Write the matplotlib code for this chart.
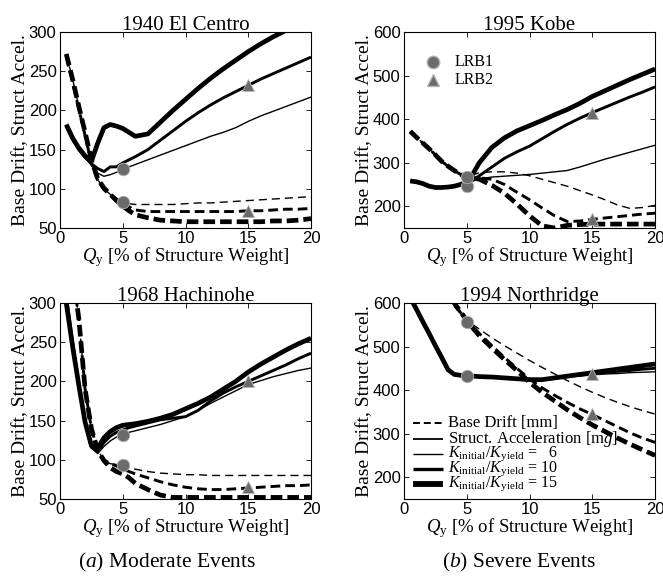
import numpy as np
import matplotlib
matplotlib.use("Agg")
import matplotlib.pyplot as plt
from matplotlib.lines import Line2D

plt.rcParams['font.family'] = ['Liberation Serif', 'DejaVu Serif']
plt.rcParams['mathtext.fontset'] = 'custom'
plt.rcParams['mathtext.rm'] = 'Liberation Serif'
plt.rcParams['mathtext.it'] = 'Liberation Serif:italic'
plt.rcParams['lines.scale_dashes'] = False

# yield strength grid, % of structure weight
q = [0.5, 1, 1.5, 2, 2.5, 3, 3.5, 4, 4.5, 5, 5.5, 6, 7, 8, 9, 10,
     11, 12, 13, 14, 15, 16, 17, 18, 19, 20]

# 1940 El Centro
elc_acc6 = [180, 165, 152, 140, 130, 120, 116, 118, 121, 125, 128, 131, 137, 143,
            149, 155, 161, 167, 172, 178, 186, 193, 199, 205, 211, 217]
elc_acc10 = [180, 163, 150, 140, 132, 126, 122, 128, 128, 133, 137, 141, 150, 162,
             174, 186, 197, 207, 216, 224, 232, 240, 247, 254, 261, 268]
elc_acc15 = [182, 165, 152, 142, 135, 158, 178, 182, 180, 177, 172, 167, 170, 185,
             200, 214, 228, 241, 253, 264, 275, 285, 294, 302, 311, 320]
elc_drift6 = [272, 240, 205, 170, 135, 112, 100, 93, 88, 83, 81, 80, 80, 80,
              80, 81, 82, 82, 83, 84, 85, 86, 87, 88, 89, 90]
elc_drift10 = [268, 236, 202, 168, 133, 111, 99, 92, 87, 83, 77, 73, 71, 71,
               71, 71, 71, 71, 71, 71, 72, 72, 73, 74, 74, 75]
elc_drift15 = [272, 240, 205, 172, 137, 113, 101, 93, 85, 78, 72, 67, 63, 60,
               59, 58, 58, 58, 58, 58, 58, 58, 59, 59, 60, 62]
elc_lrb1 = [125, 83]
elc_lrb2 = [232, 72]

# 1995 Kobe
kob_acc6 = [258, 256, 252, 246, 243, 243, 244, 246, 248, 250, 258, 263, 267, 269,
            271, 273, 276, 279, 282, 290, 299, 308, 316, 324, 332, 340]
kob_acc10 = [258, 256, 252, 246, 243, 243, 244, 246, 249, 252, 260, 270, 290, 310,
             325, 338, 355, 372, 388, 402, 415, 427, 439, 451, 462, 474]
kob_acc15 = [258, 256, 252, 246, 243, 243, 244, 246, 250, 255, 275, 300, 335, 357,
             373, 385, 397, 410, 422, 436, 452, 465, 478, 491, 503, 515]
kob_drift6 = [372, 358, 345, 332, 318, 303, 292, 282, 273, 266, 272, 277, 279, 279,
              276, 270, 262, 254, 246, 236, 226, 215, 203, 195, 197, 202]
kob_drift10 = [372, 358, 345, 332, 318, 303, 292, 282, 273, 266, 266, 265, 262, 250,
               232, 215, 196, 178, 165, 166, 170, 173, 176, 179, 182, 184]
kob_drift15 = [372, 358, 345, 332, 318, 303, 292, 282, 273, 266, 265, 262, 248, 230,
               205, 178, 155, 150, 156, 158, 159, 159, 159, 159, 159, 159]
kob_lrb1 = [246, 266]
kob_lrb2 = [415, 170]

# 1968 Hachinohe
hac_acc6 = [310, 250, 198, 148, 115, 108, 117, 124, 129, 132, 135, 137, 141, 145,
            150, 155, 163, 172, 180, 188, 196, 201, 206, 210, 214, 217]
hac_acc10 = [310, 250, 198, 148, 116, 110, 122, 130, 135, 138, 141, 143, 147, 151,
             153, 155, 163, 175, 185, 193, 200, 207, 214, 221, 229, 236]
hac_acc15 = [300, 245, 195, 148, 118, 115, 128, 136, 141, 144, 145, 146, 149, 153,
             158, 165, 172, 180, 190, 200, 212, 222, 231, 240, 248, 255]
hac_drift6 = [420, 340, 280, 190, 140, 112, 100, 95, 94, 93, 90, 88, 85, 83,
              82, 81, 81, 80, 80, 80, 80, 80, 80, 80, 80, 80]
hac_drift10 = [420, 340, 280, 190, 140, 112, 100, 95, 92, 88, 85, 82, 77, 72,
               68, 65, 63, 62, 62, 63, 64, 65, 66, 67, 67, 68]
hac_drift15 = [420, 340, 280, 190, 140, 112, 99, 90, 85, 82, 77, 70, 62, 55,
               52, 52, 52, 52, 52, 52, 52, 52, 52, 52, 52, 52]
hac_lrb1 = [132, 93]
hac_lrb2 = [200, 65]

# 1994 Northridge
nor_acc6 = [612, 585, 557, 530, 502, 475, 447, 436, 434, 433, 432, 431, 430, 428,
            426, 424, 424, 427, 430, 432, 435, 437, 438, 440, 441, 442]
nor_acc10 = [612, 585, 557, 530, 502, 475, 447, 436, 434, 433, 432, 431, 430, 428,
             426, 424, 424, 427, 431, 435, 438, 440, 443, 445, 448, 450]
nor_acc15 = [612, 585, 557, 530, 502, 475, 447, 436, 434, 433, 432, 431, 430, 428,
             426, 424, 424, 428, 432, 436, 440, 444, 448, 452, 456, 460]
nor_drift6 = [700, 690, 680, 670, 660, 640, 615, 592, 575, 560, 550, 540, 520, 502,
              485, 468, 452, 437, 422, 408, 395, 383, 372, 362, 353, 345]
nor_drift10 = [720, 710, 700, 690, 680, 660, 630, 600, 578, 560, 545, 530, 502, 475,
               450, 425, 405, 388, 372, 357, 344, 330, 316, 302, 290, 280]
nor_drift15 = [720, 710, 700, 690, 680, 660, 630, 600, 580, 560, 542, 525, 497, 470,
               445, 418, 395, 375, 355, 337, 320, 305, 290, 276, 263, 250]
nor_lrb1 = [433, 556]
nor_lrb2 = [437, 345]

widths = [1.0, 2.1, 3.4]
dash_patterns = [(5.8, 3.6), (7.0, 3.6), (8.4, 3.6)]
gray = '#6b6b6b'
edge = '#b4b4b4'


def draw_panel(ax, title, acc, drift, lrb1, lrb2, ylim, yticks):
    for y, lw in zip(acc, widths):
        ax.plot(q, y, color='k', lw=lw, solid_capstyle='butt')
    for y, lw, d in zip(drift, widths, dash_patterns):
        ax.plot(q, y, color='k', lw=lw, linestyle=(0, d), dash_capstyle='butt')
    ax.plot([5, 5], lrb1, 'o', color=gray, mec=edge, mew=0.6, ms=9, zorder=5)
    ax.plot([15, 15], lrb2, '^', color=gray, mec=edge, mew=0.6, ms=9, zorder=5)

    ax.set_xlim(0, 20)
    ax.set_ylim(*ylim)
    ax.set_xticks([0, 5, 10, 15, 20])
    ax.set_yticks(yticks)
    ax.tick_params(direction='in', top=True, right=True, length=3.5, width=0.6,
                   labelsize=12, pad=2.5)
    for lab in ax.get_xticklabels() + ax.get_yticklabels():
        lab.set_family('Liberation Sans')
    for sp in ax.spines.values():
        sp.set_linewidth(0.8)
    ax.set_title(title, fontsize=15, pad=1.5)
    ax.set_xlabel(r'$Q_{\mathrm{y}}$ [% of Structure Weight]', fontsize=13.5)
    ax.xaxis.set_label_coords(0.5, -0.088)
    ax.set_ylabel('Base Drift, Struct Accel.', fontsize=14)
    ax.yaxis.set_label_coords(-0.125, 0.5)


fig = plt.figure(figsize=(6.63, 5.79), dpi=100)
w, h = 0.3786, 0.3385
ax1 = fig.add_axes([0.0905, 0.6062, w, h])
ax2 = fig.add_axes([0.6094, 0.6062, w, h])
ax3 = fig.add_axes([0.0905, 0.1382, w, h])
ax4 = fig.add_axes([0.6094, 0.1382, w, h])

draw_panel(ax1, '1940 El Centro', [elc_acc6, elc_acc10, elc_acc15],
           [elc_drift6, elc_drift10, elc_drift15], elc_lrb1, elc_lrb2,
           (50, 300), [50, 100, 150, 200, 250, 300])
draw_panel(ax2, '1995 Kobe', [kob_acc6, kob_acc10, kob_acc15],
           [kob_drift6, kob_drift10, kob_drift15], kob_lrb1, kob_lrb2,
           (150, 600), [200, 300, 400, 500, 600])
draw_panel(ax3, '1968 Hachinohe', [hac_acc6, hac_acc10, hac_acc15],
           [hac_drift6, hac_drift10, hac_drift15], hac_lrb1, hac_lrb2,
           (50, 300), [50, 100, 150, 200, 250, 300])
draw_panel(ax4, '1994 Northridge', [nor_acc6, nor_acc10, nor_acc15],
           [nor_drift6, nor_drift10, nor_drift15], nor_lrb1, nor_lrb2,
           (150, 600), [200, 300, 400, 500, 600])

# bearing markers key, drawn in axes coordinates
for yy, mk, txt in [(0.848, 'o', 'LRB1'), (0.755, '^', 'LRB2')]:
    ax2.plot([0.114], [yy], marker=mk, ls='none', color=gray, mec=edge, ms=9,
             transform=ax2.transAxes, clip_on=False)
    ax2.text(0.2, yy, txt, transform=ax2.transAxes, va='center', fontsize=11.5)

# line style key
key_rows = [0.386, 0.306, 0.230, 0.153, 0.076]
key_labels = ['Base Drift [mm]', r'Struct. Acceleration [m$g$]',
              r'$K_{\mathrm{initial}}/K_{\mathrm{yield}}$ =   6',
              r'$K_{\mathrm{initial}}/K_{\mathrm{yield}}$ = 10',
              r'$K_{\mathrm{initial}}/K_{\mathrm{yield}}$ = 15']
key_sizes = [12, 12, 11.5, 11.5, 11.5]
key_styles = [dict(lw=1.4, ls=(0, (5.0, 2.8))), dict(lw=1.3), dict(lw=widths[0]),
              dict(lw=widths[1] + 0.3), dict(lw=widths[2] + 0.8)]
for yy, txt, fs, st in zip(key_rows, key_labels, key_sizes, key_styles):
    ax4.add_line(Line2D([0.035, 0.154], [yy, yy], color='k', transform=ax4.transAxes,
                        solid_capstyle='butt', dash_capstyle='butt', **st))
    ax4.text(0.174, yy, txt, transform=ax4.transAxes, va='center', fontsize=fs)

fig.text(0.252, 0.028, r'($a$) Moderate Events', ha='center', va='center', fontsize=15.5)
fig.text(0.783, 0.028, r'($b$) Severe Events', ha='center', va='center', fontsize=15.5)

fig.savefig('out.png', dpi=100)
